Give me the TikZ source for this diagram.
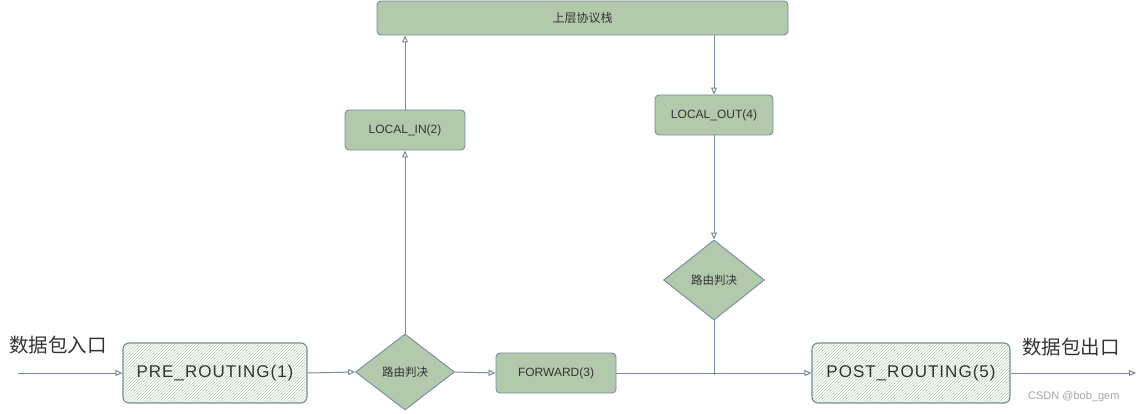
\documentclass[tikz,border=0pt]{standalone}
\usepackage{fontspec}
\setmainfont{Liberation Sans}
\newfontfamily\cjk{Noto Sans CJK SC}
\newfontfamily\hand[LetterSpace=6]{Liberation Sans}
\usetikzlibrary{shapes.geometric,arrows.meta,patterns}
\definecolor{boxfill}{HTML}{B2C9AB}
\definecolor{edge}{HTML}{788AA3}
\definecolor{txt}{HTML}{333333}
\definecolor{hatch}{HTML}{B8D2AE}
\tikzset{
  gbox/.style={draw=edge, fill=boxfill, rounded corners=4pt, line width=0.9pt, text=txt, font=\fontsize{12}{14}\selectfont, inner sep=0pt},
  hbox/.style={draw=edge, pattern={north east lines}, pattern color=hatch, rounded corners=6pt, line width=1.1pt, text=txt, font=\hand\fontsize{17}{19}\selectfont, inner sep=0pt},
  dia/.style={draw=edge, fill=boxfill, diamond, line width=0.9pt, text=txt, font=\cjk\fontsize{11.5}{13}\selectfont, inner sep=0pt, aspect=1.3},
  conn/.style={draw=edge, line width=1pt, -{Triangle[open,length=7pt,width=6pt]}},
  plain/.style={draw=edge, line width=1pt},
  lbl/.style={text=txt, font=\cjk\fontsize{19.5}{21}\selectfont, inner sep=0pt}
}
\begin{document}
\begin{tikzpicture}[x=1pt,y=-1pt]
\useasboundingbox (0,0) rectangle (1142,414);
\fill[white] (0,0) rectangle (1142,414);
\node[gbox, minimum width=411pt, minimum height=34pt] (top) at (582.5,18) {\cjk 上层协议栈};
\node[gbox, minimum width=120pt, minimum height=40pt] (lin) at (405,130) {LOCAL\_IN(2)};
\node[gbox, minimum width=118pt, minimum height=40pt] (lout) at (714,115) {LOCAL\_OUT(4)};
\node[dia, minimum width=101pt, minimum height=80pt] (d2) at (714,280) {路由判决};
\node[dia, minimum width=99pt, minimum height=76pt] (d1) at (405,372) {路由判决};
\node[gbox, minimum width=120pt, minimum height=40pt] (fwd) at (556,373) {FORWARD(3)};
\node[hbox, minimum width=184pt, minimum height=60pt] (pre) at (215,373) {PRE\_ROUTING(1)};
\node[hbox, minimum width=198pt, minimum height=60pt] (post) at (911,373) {POST\_ROUTING(5)};
\coordinate (in) at (18,373);
\coordinate (out) at (1136,373);
\coordinate (j) at (714,375);
\node[lbl, anchor=west] (inl) at (9,345) {数据包入口};
\node[lbl, anchor=west] (outl) at (1022,347) {数据包出口};
\node[anchor=west, text=gray!70, font=\fontsize{11}{13}\selectfont, inner sep=0pt] (csdn) at (1028,397) {CSDN @bob\_gem};
\draw[conn] (in) -- (pre.west);
\draw[conn] (pre.east) -- (d1.west);
\draw[conn] (d1.east) -- (fwd.west);
\draw[conn] (d1.north) -- (lin.south);
\draw[conn] (lin.north) -- (lin.north |- top.south);
\draw[conn] (lout.north |- top.south) -- (lout.north);
\draw[conn] (lout.south) -- (d2.north);
\draw[plain] (d2.south) -- (j);
\draw[conn] (fwd.east) -- (post.west);
\draw[conn] (post.east) -- (out);
\end{tikzpicture}
\end{document}
